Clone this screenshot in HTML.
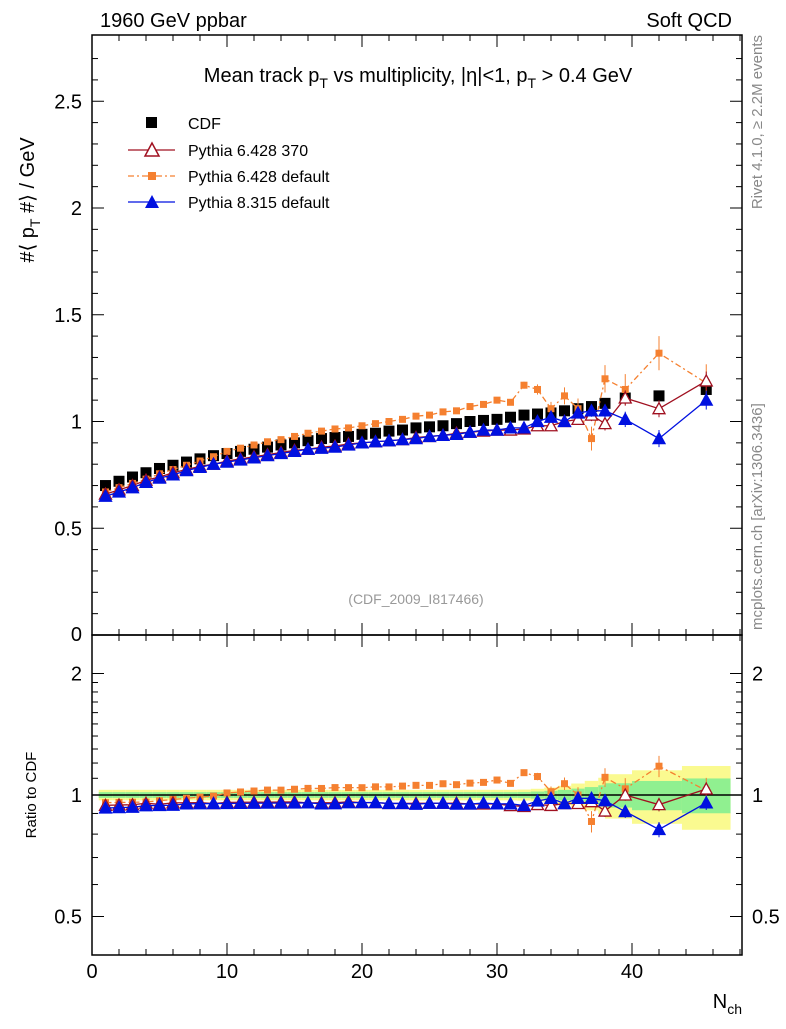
<!DOCTYPE html>
<html><head><meta charset="utf-8"><style>
body{margin:0;background:#fff}
svg text{font-family:"Liberation Sans",sans-serif}
</style></head><body>
<svg id="c" width="786" height="1024" xmlns="http://www.w3.org/2000/svg">
<g id="bands"></g>
<g id="axes"></g>
<g id="marks"></g>
<text x="100" y="27" font-size="20">1960 GeV ppbar</text>
<text x="732" y="27" font-size="20" text-anchor="end">Soft QCD</text>
<text x="418" y="82" font-size="20" text-anchor="middle">Mean track p<tspan font-size="14" dy="6">T</tspan><tspan dy="-6"> vs multiplicity, |η|&lt;1, p</tspan><tspan font-size="14" dy="6">T</tspan><tspan dy="-6"> &gt; 0.4 GeV</tspan></text>
<text transform="translate(34,200) rotate(-90)" font-size="20" text-anchor="middle">#⟨ p<tspan font-size="14" dy="6">T</tspan><tspan dy="-6"> #⟩ / GeV</tspan></text>
<text transform="translate(36,795) rotate(-90)" font-size="15" text-anchor="middle">Ratio to CDF</text>
<text x="742" y="1008" font-size="20" text-anchor="end">N<tspan font-size="14" dy="6">ch</tspan></text>
<text transform="translate(762,35) rotate(-90)" font-size="15" fill="#888" text-anchor="end">Rivet 4.1.0, ≥ 2.2M events</text>
<text transform="translate(762,630) rotate(-90)" font-size="15" fill="#888">mcplots.cern.ch [arXiv:1306.3436]</text>
<text x="416" y="604" font-size="14" fill="#999" text-anchor="middle">(CDF_2009_I817466)</text>
<g>
<rect x="146" y="117" width="11" height="11" fill="#000"/>
<text x="188" y="129" font-size="16">CDF</text>
<line x1="128" y1="150" x2="175" y2="150" stroke="#a01020" stroke-width="1.3"/>
<path d="M152,143 L159,156 L145,156 Z" fill="#fff" stroke="#a01020" stroke-width="1.5"/>
<text x="188" y="156" font-size="16">Pythia 6.428 370</text>
<line x1="128" y1="176" x2="175" y2="176" stroke="#f58030" stroke-width="1.3" stroke-dasharray="6,3,2,3"/>
<rect x="148" y="172" width="8" height="8" fill="#f58030"/>
<text x="188" y="182" font-size="16">Pythia 6.428 default</text>
<line x1="128" y1="202" x2="175" y2="202" stroke="#0010e0" stroke-width="1.3"/>
<path d="M152,195 L159,208 L145,208 Z" fill="#0010e0"/>
<text x="188" y="208" font-size="16">Pythia 8.315 default</text>
</g>
</svg>
<script>
const xs=[1,2,3,4,5,6,7,8,9,10,11,12,13,14,15,16,17,18,19,20,21,22,23,24,25,26,27,28,29,30,31,32,33,34,35,36,37,38,39.5,42,45.5];
const cdf=[0.70,0.72,0.74,0.76,0.78,0.795,0.81,0.825,0.84,0.85,0.86,0.87,0.88,0.89,0.90,0.91,0.92,0.925,0.93,0.94,0.945,0.955,0.96,0.97,0.975,0.98,0.99,1.00,1.005,1.01,1.02,1.03,1.035,1.04,1.05,1.06,1.07,1.085,1.11,1.12,1.15];
const py6a=[0.66,0.68,0.70,0.725,0.74,0.76,0.775,0.79,0.80,0.815,0.825,0.835,0.845,0.855,0.865,0.87,0.88,0.885,0.895,0.90,0.905,0.91,0.915,0.925,0.93,0.935,0.945,0.95,0.955,0.96,0.96,0.965,0.98,0.98,1.0,1.01,1.03,0.99,1.11,1.06,1.19];
const py6d=[0.67,0.69,0.71,0.73,0.755,0.775,0.795,0.815,0.835,0.86,0.875,0.89,0.905,0.915,0.93,0.945,0.955,0.965,0.97,0.98,0.99,1.0,1.01,1.025,1.03,1.045,1.05,1.07,1.08,1.10,1.09,1.17,1.15,1.06,1.12,1.06,0.92,1.20,1.15,1.32,1.18];
const py8=[0.65,0.67,0.69,0.715,0.735,0.75,0.77,0.785,0.80,0.81,0.82,0.83,0.84,0.85,0.86,0.87,0.875,0.88,0.89,0.90,0.905,0.91,0.915,0.92,0.93,0.935,0.94,0.95,0.96,0.96,0.97,0.97,1.0,1.02,1.0,1.04,1.05,1.05,1.01,0.92,1.10];
const yTicks=[0.5,1,1.5,2,2.5];
const rTicks=[0.5,1,2];
const xTicks=[0,10,20,30,40];
const NS="http://www.w3.org/2000/svg";
const X=v=>92+v*13.5, Y=v=>635-v*213.5, R=v=>795-Math.log2(v)*121.5;
function el(p,t,a){const e=document.createElementNS(NS,t);for(const k in a)e.setAttribute(k,a[k]);p.appendChild(e);return e;}
const ax=document.getElementById('axes'),mk=document.getElementById('marks'),bd=document.getElementById('bands');
let f1=el(ax,'rect',{x:92,y:35,width:650,height:600,fill:'none',stroke:'#000','stroke-width':1.5});


let f2=el(ax,'rect',{x:92,y:635,width:650,height:320,fill:'none',stroke:'#000','stroke-width':1.5});


for(let v=0.1;v<2.8;v+=0.1){const y=Y(v);const maj=Math.abs(v*2-Math.round(v*2))<1e-6;const l=maj?12:6;
el(ax,'line',{x1:92,x2:92+l,y1:y,y2:y,stroke:'#000'});el(ax,'line',{x1:742,x2:742-l,y1:y,y2:y,stroke:'#000'});}
yTicks.forEach(v=>{const t=el(ax,'text',{x:82,y:Y(v)+7,'font-size':20,'text-anchor':'end'});t.textContent=String(v);

});
let t0=el(ax,'text',{x:82,y:641,'font-size':20,'text-anchor':'end'});t0.textContent='0';
[0.4,0.5,0.6,0.7,0.8,0.9,1,1.1,1.2,1.3,1.4,1.5,1.6,1.7,1.8,1.9,2].forEach(v=>{const y=R(v);if(y<637||y>953)return;const maj=rTicks.includes(v);const l=maj?12:6;
el(ax,'line',{x1:92,x2:92+l,y1:y,y2:y,stroke:'#000'});el(ax,'line',{x1:742,x2:742-l,y1:y,y2:y,stroke:'#000'});});
rTicks.forEach(v=>{[[82,'end'],[752,'start']].forEach(([x,a])=>{const t=el(ax,'text',{x:x,y:R(v)+7,'font-size':20,'text-anchor':a});t.textContent=String(v);

});});
for(let v=0;v<=48;v+=2){const x=X(v);const maj=v%10==0;const l=maj?12:6;
[[635,-1],[955,-1],[35,1],[635,1]].forEach(([y0,d])=>el(ax,'line',{x1:x,x2:x,y1:y0,y2:y0+d*l,stroke:'#000'}));}
xTicks.forEach(v=>{const t=el(ax,'text',{x:X(v),y:978,'font-size':20,'text-anchor':'middle'});t.textContent=String(v);

});
xs.forEach((x,i)=>{const hw=i<38?0.5:(i==38?1.5:(i==39?2:1.8));const rel=i<30?0.03:0.03+0.003*(i-30)*(i-30)/2;const g=rel*0.55;
el(bd,'rect',{x:X(x-hw),width:hw*2*13.5,y:R(1+rel),height:R(1-rel)-R(1+rel),fill:'#fafa90'});
el(bd,'rect',{x:X(x-hw),width:hw*2*13.5,y:R(1+g),height:R(1-g)-R(1+g),fill:'#90f090'});});
el(ax,'line',{x1:92,x2:742,y1:R(1),y2:R(1),stroke:'#000','stroke-width':1.5});
function series(vals,col,dash,shape,name){
const g=el(mk,'g',{});


const panels=shape==='cdf'?[[Y,v=>v]]:[[Y,v=>v],[R,(v,i)=>v/cdf[i]]];
panels.forEach(([F,tr])=>{
if(shape!=='cdf'){el(g,'polyline',{points:xs.map((x,i)=>X(x)+','+F(tr(vals[i],i))).join(' '),fill:'none',stroke:col,'stroke-width':1.3,'stroke-dasharray':dash});}
xs.forEach((x,i)=>{const cx=X(x),cy=F(tr(vals[i],i));
if(i>=30&&shape!=='cdf'){const e=(i-29)*0.004*(shape==='sq'?2:1);el(g,'line',{x1:cx,x2:cx,y1:F(tr(vals[i]+e,i)),y2:F(tr(vals[i]-e,i)),stroke:col});}
if(shape==='cdf')el(g,'rect',{x:cx-5.5,y:cy-5.5,width:11,height:11,fill:'#000'});
else if(shape==='sq')el(g,'rect',{x:cx-3.5,y:cy-3.5,width:7,height:7,fill:col});
else el(g,'path',{d:`M${cx},${cy-6} L${cx+6},${cy+5} L${cx-6},${cy+5} Z`,fill:shape==='open'?'#fff':col,stroke:col,'stroke-width':1.3});});
});}
series(cdf,'#000','','cdf','cdf-data');
series(py6d,'#f58030','6,3,2,3','sq','pythia6-default-series');
series(py6a,'#a01020','','open','pythia6-370-series');
series(py8,'#0010e0','','fill','pythia8-series');
</script>
</body></html>
